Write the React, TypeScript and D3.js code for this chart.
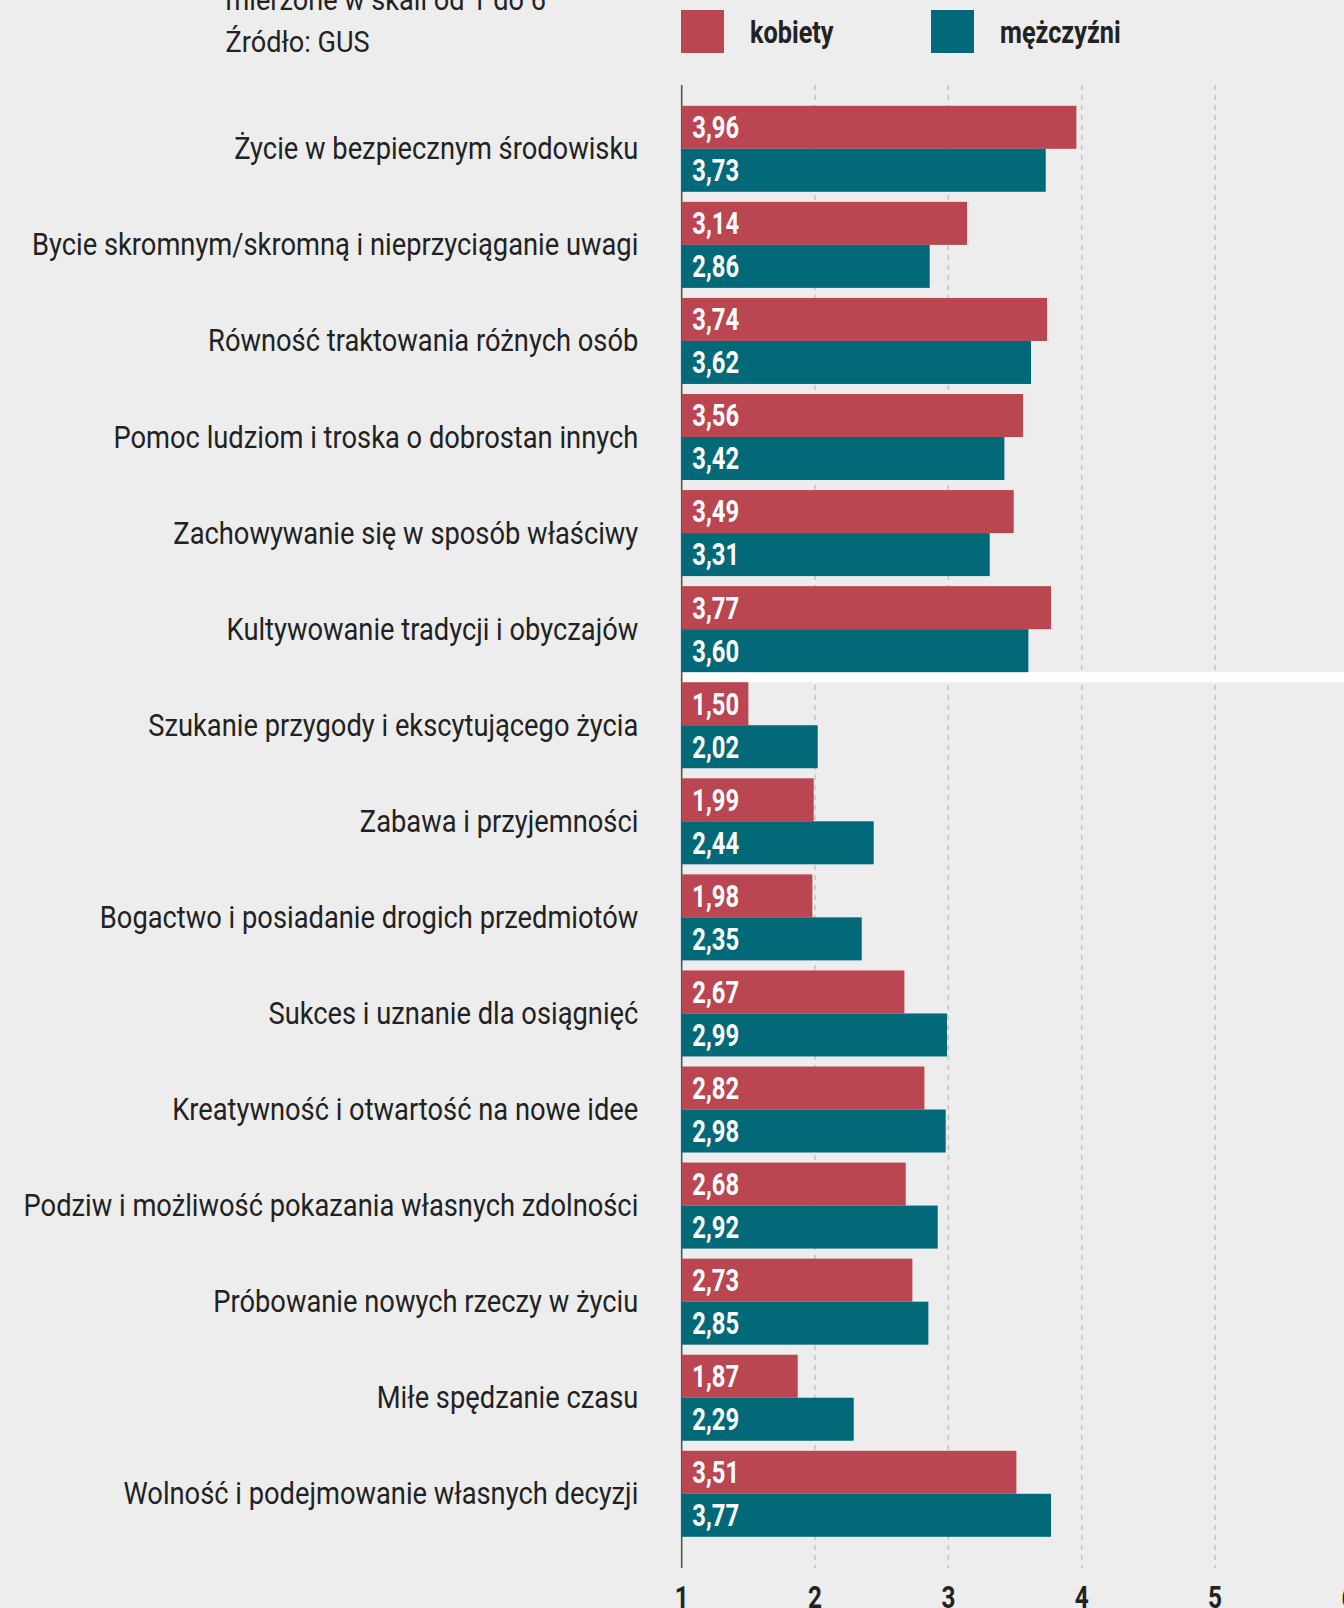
import React, { useEffect } from "react";
import * as d3 from "d3";

const categories = [
  "Życie w bezpiecznym środowisku",
  "Bycie skromnym/skromną i nieprzyciąganie uwagi",
  "Równość traktowania różnych osób",
  "Pomoc ludziom i troska o dobrostan innych",
  "Zachowywanie się w sposób właściwy",
  "Kultywowanie tradycji i obyczajów",
  "Szukanie przygody i ekscytującego życia",
  "Zabawa i przyjemności",
  "Bogactwo i posiadanie drogich przedmiotów",
  "Sukces i uznanie dla osiągnięć",
  "Kreatywność i otwartość na nowe idee",
  "Podziw i możliwość pokazania własnych zdolności",
  "Próbowanie nowych rzeczy w życiu",
  "Miłe spędzanie czasu",
  "Wolność i podejmowanie własnych decyzji",
];
const kobiety = [3.96, 3.14, 3.74, 3.56, 3.49, 3.77, 1.5, 1.99, 1.98, 2.67, 2.82, 2.68, 2.73, 1.87, 3.51];
const mezczyzni = [3.73, 2.86, 3.62, 3.42, 3.31, 3.6, 2.02, 2.44, 2.35, 2.99, 2.98, 2.92, 2.85, 2.29, 3.77];
const seriesNames = ["kobiety", "mężczyźni"];
const seriesColors = ["#BA4652", "#016977"];
const xTicks = [1, 2, 3, 4, 5, 6];
const subtitleLines = ["mierzone w skali od 1 do 6", "Źródło: GUS"];
const separatorAfter = "Kultywowanie tradycji i obyczajów";

const W = 1344;
const H = 1608;
const FONT = "Roboto, 'Noto Sans', sans-serif";
const BG = "#EDEDED";
const SUB_SX = 0.92;
const REG_SX = 0.895;
const BOLD_SX = 0.78;

export default function App() {
  useEffect(() => {
    document.body.style.margin = "0";
    document.body.style.background = BG;
  }, []);

  const x = d3.scaleLinear().domain([1, 6]).range([681.7, 1348.4]);
  const y = d3
    .scaleBand<string>()
    .domain(categories)
    .range([105.8, 1536.8])
    .paddingInner(0.1048)
    .paddingOuter(0);
  const ys = d3.scaleBand<string>().domain(seriesNames).range([0, y.bandwidth()]).padding(0);
  const fmt = (v: number) => d3.format(".2f")(v).replace(".", ",");
  const series = [kobiety, mezczyzni];

  const axisTop = 85;
  const axisBottom = 1568;
  const sepIdx = categories.indexOf(separatorAfter);
  const sepY0 = (y(categories[sepIdx]) as number) + y.bandwidth();
  const sepY1 = y(categories[sepIdx + 1]) as number;

  return (
    <svg width={W} height={H} style={{ display: "block", background: BG }} fontFamily={FONT}>
      <rect x={0} y={0} width={W} height={H} fill={BG} />
      {/* subtitle */}
      {subtitleLines.map((t, i) => (
        <g key={t} transform={`translate(225.5,${10 + i * 42.3}) scale(${SUB_SX},1)`}>
          <text x={0} y={0} fontSize={29.5} fill="#222">
            {t}
          </text>
        </g>
      ))}
      {/* legend */}
      {seriesNames.map((s, i) => (
        <g key={s} transform={`translate(${681 + i * 250},10)`}>
          <rect width={43} height={43} fill={seriesColors[i]} />
          <g transform={`translate(69,32.7) scale(0.79,1)`}>
            <text x={0} y={0} fontSize={32} fontWeight="bold" fill="#222">
              {s}
            </text>
          </g>
        </g>
      ))}
      {/* grid */}
      {xTicks
        .filter((t) => t > 1)
        .map((t) => (
          <line
            key={t}
            x1={x(t)}
            x2={x(t)}
            y1={axisTop}
            y2={axisBottom}
            stroke="#C6C6C6"
            strokeWidth={1.6}
            strokeDasharray="5 5"
          />
        ))}
      {/* separator */}
      <rect x={x(1)} y={sepY0} width={W - x(1)} height={sepY1 - sepY0} fill="#FFFFFF" />
      {/* axis line */}
      <line x1={x(1)} x2={x(1)} y1={axisTop} y2={axisBottom} stroke="#555" strokeWidth={1.6} />
      {/* bars */}
      {categories.map((c, ci) => (
        <g key={c} transform={`translate(0,${y(c)})`}>
          {series.map((vals, si) => {
            const by = ys(seriesNames[si]) as number;
            const bh = ys.bandwidth();
            return (
              <g key={si}>
                <rect x={x(1)} y={by} width={x(vals[ci]) - x(1)} height={bh} fill={seriesColors[si]} />
                <g transform={`translate(${x(1) + 10.6},${by + bh / 2 + 10.9}) scale(${BOLD_SX},1)`}>
                  <text x={0} y={0} fontSize={30.5} fontWeight="bold" fill="#fff">
                    {fmt(vals[ci])}
                  </text>
                </g>
              </g>
            );
          })}
          <g transform={`translate(638.3,${y.bandwidth() / 2 + 10.5}) scale(${REG_SX},1)`}>
            <text x={0} y={0} fontSize={30.5} fill="#222" textAnchor="end">
              {c}
            </text>
          </g>
        </g>
      ))}
      {/* x tick labels */}
      {xTicks.map((t) => (
        <g key={t} transform={`translate(${x(t)},1608) scale(0.76,1)`}>
          <text x={0} y={0} fontSize={32} fontWeight="bold" fill="#222" textAnchor="middle">
            {t}
          </text>
        </g>
      ))}
    </svg>
  );
}
